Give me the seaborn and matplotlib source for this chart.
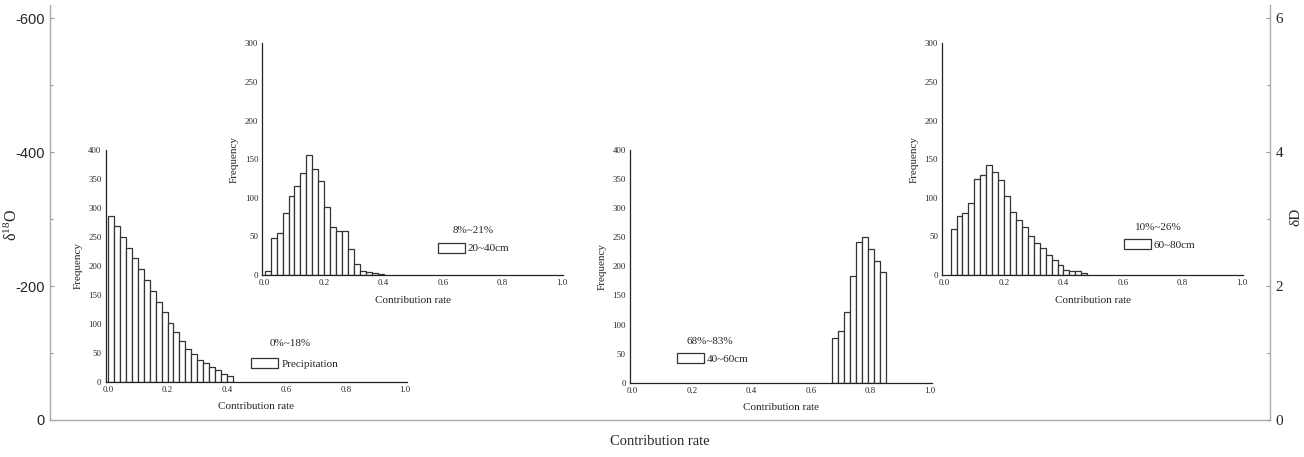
import numpy as np
import pandas as pd
import matplotlib
matplotlib.use("Agg")
import matplotlib.pyplot as plt
from matplotlib.ticker import MultipleLocator
import seaborn as sns

# %%
# histogram counts, bin width 0.02
precip_bins = [0.00, 0.02, 0.04, 0.06, 0.08, 0.10, 0.12, 0.14, 0.16, 0.18, 0.20,
               0.22, 0.24, 0.26, 0.28, 0.30, 0.32, 0.34, 0.36, 0.38, 0.40]
precip_counts = [286, 268, 249, 231, 213, 195, 176, 156, 138, 120, 101,
                 85, 70, 56, 47, 37, 33, 26, 20, 13, 10]

cm20_bins = [0.00, 0.02, 0.04, 0.06, 0.08, 0.10, 0.12, 0.14, 0.16, 0.18,
             0.20, 0.22, 0.24, 0.26, 0.28, 0.30, 0.32, 0.34, 0.36, 0.38]
cm20_counts = [5, 48, 55, 80, 102, 116, 132, 155, 138, 122,
               88, 62, 57, 57, 34, 15, 5, 4, 3, 2]

cm40_bins = [0.67, 0.69, 0.71, 0.73, 0.75, 0.77, 0.79, 0.81, 0.83]
cm40_counts = [76, 89, 121, 184, 242, 250, 230, 210, 190]

cm60_bins = [0.02, 0.04, 0.06, 0.08, 0.10, 0.12, 0.14, 0.16, 0.18, 0.20, 0.22, 0.24,
             0.26, 0.28, 0.30, 0.32, 0.34, 0.36, 0.38, 0.40, 0.42, 0.44, 0.46]
cm60_counts = [60, 77, 80, 94, 125, 130, 142, 134, 123, 102, 82, 72,
               62, 51, 42, 35, 26, 19, 13, 6, 5, 5, 3]

layer_names = ["Precipitation", "20~40cm", "40~60cm", "60~80cm"]
ranges = ["0%~18%", "8%~21%", "68%~83%", "10%~26%"]
ymax = [400, 300, 400, 300]

bin_width = 0.02

# %%
sns.set_style("white")
plt.rcParams["font.family"] = ["Liberation Serif", "DejaVu Serif"]
plt.rcParams["mathtext.fontset"] = "stix"
plt.rcParams["axes.unicode_minus"] = False

fig = plt.figure(figsize=(13.04, 4.57), dpi=100)

# outer frame
outer = fig.add_axes([0.0383, 0.081, 0.9356, 0.908])
outer.set_ylim(0, -620)
outer.set_yticks([0, -200, -400, -600])
outer.yaxis.set_minor_locator(MultipleLocator(100))
outer.set_xticks([])
outer.set_xlim(0, 1)
for lab in outer.get_yticklabels():
    lab.set_fontfamily(["Liberation Sans", "DejaVu Sans"])
    lab.set_fontsize(10.5)
outer.tick_params(axis="y", which="both", direction="in", color="#999999",
                  length=3, width=0.8, pad=4)
outer.tick_params(axis="y", which="minor", length=2)
for side in ["top", "right"]:
    outer.spines[side].set_visible(False)
for side in ["left", "bottom"]:
    outer.spines[side].set_color("#aaaaaa")
    outer.spines[side].set_linewidth(1.0)
outer.set_ylabel("δ$\\mathregular{^{18}}$O", fontsize=11.5)
outer.yaxis.set_label_coords(-0.024, 0.47)
outer.set_xlabel("Contribution rate", fontsize=10.5, labelpad=11)

twin = outer.twinx()
twin.set_ylim(0, 6.2)
twin.set_yticks([0, 2, 4, 6])
twin.yaxis.set_minor_locator(MultipleLocator(1))
twin.tick_params(axis="y", which="both", direction="in", color="#999999",
                 length=3, width=0.8, pad=4, labelsize=11)
twin.tick_params(axis="y", which="minor", length=2)
for side in ["top", "left", "bottom"]:
    twin.spines[side].set_visible(False)
twin.spines["right"].set_color("#aaaaaa")
twin.spines["right"].set_linewidth(1.0)
twin.set_ylabel("δD", fontsize=11)
twin.yaxis.set_label_coords(1.0155, 0.49)

# %%
inset_pos = [
    [0.0811, 0.1648, 0.2308, 0.507],
    [0.2012, 0.398, 0.2308, 0.507],
    [0.4831, 0.1626, 0.2314, 0.509],
    [0.7226, 0.398, 0.2308, 0.507],
]
range_xy = [(0.612, 0.166), (0.701, 0.194), (0.265, 0.179), (0.718, 0.206)]
legend_xy = [(0.465, 0.078), (0.565, 0.117), (0.138, 0.105), (0.585, 0.131)]

all_bins = [precip_bins, cm20_bins, cm40_bins, cm60_bins]
all_counts = [precip_counts, cm20_counts, cm40_counts, cm60_counts]

for i in range(4):
    ax = fig.add_axes(inset_pos[i])
    ax.set_facecolor("none")
    lefts = np.array(all_bins[i])
    df = pd.DataFrame({"rate": lefts + bin_width / 2, "count": all_counts[i]})
    edges = list(lefts) + [lefts[-1] + bin_width]
    sns.histplot(data=df, x="rate", weights="count", bins=edges, ax=ax,
                 color="white", edgecolor="#333333", linewidth=0.9, alpha=1,
                 label=layer_names[i])
    ax.set_xlim(-0.008, 1.005)
    ax.set_ylim(0, ymax[i])
    ax.set_xticks([0.0, 0.2, 0.4, 0.6, 0.8, 1.0])
    ax.set_xticklabels(["0.0", "0.2", "0.4", "0.6", "0.8", "1.0"])
    ax.xaxis.set_minor_locator(MultipleLocator(0.1))
    ax.yaxis.set_major_locator(MultipleLocator(50))
    ax.yaxis.set_minor_locator(MultipleLocator(25))
    ax.tick_params(which="both", direction="in", color="#222222", width=0.7,
                   labelsize=6.3, pad=3)
    ax.tick_params(which="major", length=3)
    ax.tick_params(which="minor", length=1.8)
    for side in ["top", "right"]:
        ax.spines[side].set_visible(False)
    for side in ["left", "bottom"]:
        ax.spines[side].set_color("#222222")
        ax.spines[side].set_linewidth(0.9)
    ax.set_xlabel("Contribution rate", fontsize=8, labelpad=6)
    ax.set_ylabel("Frequency", fontsize=8, labelpad=4)
    ax.text(range_xy[i][0], range_xy[i][1], ranges[i], transform=ax.transAxes,
            ha="center", va="center", fontsize=8)
    ax.legend(loc="center left", bbox_to_anchor=legend_xy[i], frameon=False,
              fontsize=8, handlelength=2.4, handleheight=1.0, borderpad=0,
              handletextpad=0.3)

fig.savefig("out.png", dpi=100)
